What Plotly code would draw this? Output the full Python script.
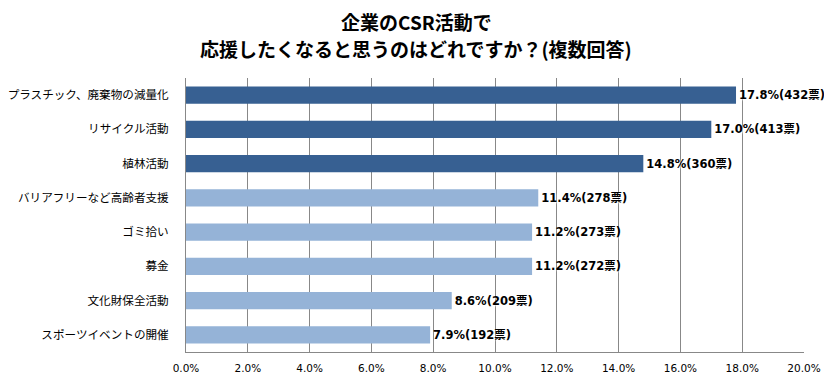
import plotly.graph_objects as go

categories = ["プラスチック、廃棄物の減量化", "リサイクル活動", "植林活動", "バリアフリーなど高齢者支援",
              "ゴミ拾い", "募金", "文化財保全活動", "スポーツイベントの開催"]
percents = [17.8, 17.0, 14.8, 11.4, 11.2, 11.2, 8.6, 7.9]
votes = [432, 413, 360, 278, 273, 272, 209, 192]
highlight = [True, True, True, False, False, False, False, False]
tick_vals = [0, 2, 4, 6, 8, 10, 12, 14, 16, 18, 20]
tick_text = [f"{v:.1f}%" for v in tick_vals]
title_lines = ["企業のCSR活動で", "応援したくなると思うのはどれですか？(複数回答)"]

DARK = "#376092"
LIGHT = "#95B3D7"
colors = [DARK if h else LIGHT for h in highlight]
labels = [f"{p:.1f}%({v}票)" for p, v in zip(percents, votes)]

# page has an 8px body margin; target plot area in page px: x 186..804, y 78..352
OFF = 8
L, R, T, B = 186 - OFF, 804 - OFF, 78 - OFF, 352 - OFF
W, H = 832, 383
PW, PH = R - L, B - T

fig = go.Figure(go.Bar(
    x=percents, y=categories, orientation="h",
    marker=dict(color=colors, line=dict(width=0)),
    width=0.5,
    text=labels, textposition="outside", cliponaxis=False,
    textfont=dict(family="DejaVu Sans, Noto Sans CJK JP", size=11.5, color="#000000", weight="bold",
                  shadow="1px 1px 2px white"),
    hoverinfo="skip",
))

for line, ypix in zip(title_lines, [21, 49]):
    fig.add_annotation(
        text=line, xref="paper", yref="paper",
        x=(416 - OFF - L) / PW, y=1 + (T - (ypix - OFF)) / PH,
        xanchor="center", yanchor="middle", showarrow=False,
        font=dict(family="Noto Sans CJK JP", size=19, color="#000000", weight="bold"),
    )

fig.update_layout(
    width=W, height=H,
    margin=dict(l=L, r=W - R, t=T, b=H - B, autoexpand=False),
    paper_bgcolor="white", plot_bgcolor="white",
    showlegend=False,
    font=dict(family="Noto Sans CJK JP", color="#000000"),
    xaxis=dict(
        range=[0, 20], tickvals=tick_vals, ticktext=tick_text,
        showgrid=True, gridcolor="#888888", gridwidth=1,
        showline=True, linecolor="#888888", linewidth=1, mirror=False,
        zeroline=False, ticks="", ticklen=0, automargin=False,
        ticklabelstandoff=6,
        tickfont=dict(family="DejaVu Sans", size=10.5, color="#000000"),
        fixedrange=True,
    ),
    yaxis=dict(
        autorange="reversed", automargin=False,
        showline=True, linecolor="#888888", linewidth=1,
        ticks="", ticklabelstandoff=14,
        tickfont=dict(family="Noto Sans CJK JP", size=11.6, color="#000000"),
        fixedrange=True,
    ),
    bargap=0.5,
)

fig.write_html("out.html")
